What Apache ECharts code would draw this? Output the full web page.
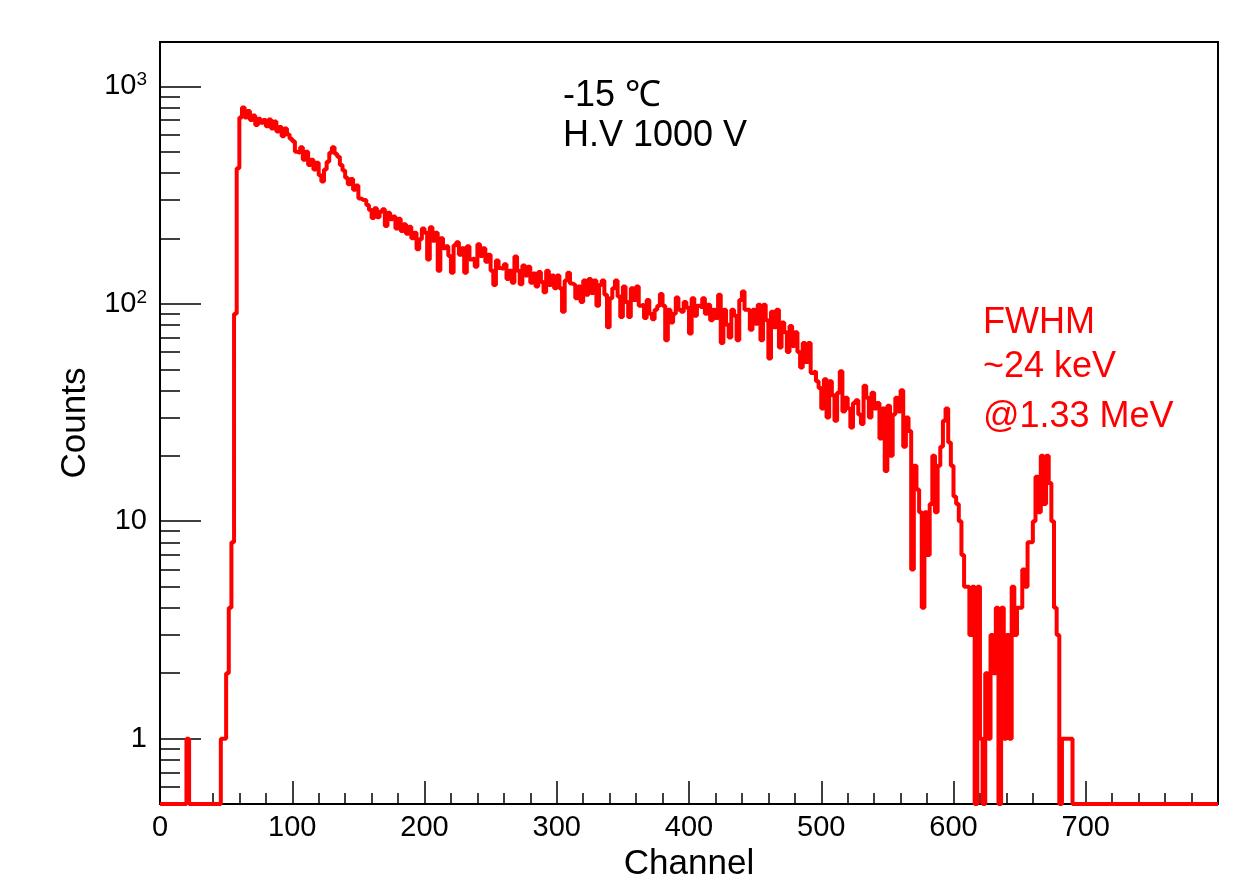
<!DOCTYPE html>
<html><head><meta charset="utf-8">
<script src="https://cdn.jsdelivr.net/npm/echarts@6/dist/echarts.min.js"></script>
<style>html,body{margin:0;padding:0;background:#fff}#c{width:1241px;height:887px}</style>
</head><body><div id="c"></div>
<script>
// ---- data (2 channels per bin) ----
const binWidth = 2;
const counts000 = [0,0,0,0,0,0,0,0,0,0, 1, 0,0,0,0,0,0,0,0,0,0,0,
  0,1,1,2,4,8,90,420,720,800,720,770,700,735,665,710,680,700,655,705,640,690,620,650,590,640,600,575];
const counts100 = [560,500,495,525,460,500,435,460,415,445,390,365,415,450,495,525,490,475,435,410,
  380,355,375,335,350,305,300,300,285,270,248,275,250,265,272,228,262,245,252,222,
  246,216,232,210,226,200,212,178,198,222];
const counts200 = [212,160,225,195,212,142,200,180,184,166,139,186,192,168,180,139,184,160,162,148,
  188,166,180,156,168,142,122,158,146,145,152,130,142,125,165,142,123,150,135,148,
  125,138,120,140,126,113,142,122,135,118];
const counts300 = [135,118,92,128,139,124,122,106,120,102,128,110,130,112,128,98,122,128,110,78,
  106,118,128,108,87,120,102,87,118,104,120,98,99,86,104,90,85,94,98,111,
  98,68,94,82,90,107,94,92,102,96];
const counts400 = [73,106,88,98,96,106,90,99,84,94,86,110,66,94,80,70,94,88,68,104,
  114,94,94,76,94,81,99,68,99,84,56,92,78,94,63,82,74,60,79,64,
  74,60,51,66,54,66,48,49,44,41];
const counts500 = [33,45,30,44,38,29,39,49,32,37,33,27,35,36,31,28,42,37,30,39,
  33,35,24,33,17,34,20,31,37,32,40,22,30,26,6,18,14,11,4,11,
  7,12,20,11,18,22,29,33,23,18];
const counts600 = [13,12,10,7,5,5,3,5,0,5,1,0,2,1,3,2,4,0,4,1,
  3,1,5,3,4,4,6,5,8,8,10,16,11,20,12,20,15,10,4,3,
  0,1,1,1,1,0,0,0,0,0];
const counts700 = [0,0,0,0,0,0,0,0,0,0,0,0,0,0,0,0,0,0,0,0,0,0,0,0,0,
  0,0,0,0,0,0,0,0,0,0,0,0,0,0,0,0,0,0,0,0,0,0,0,0,0];

const xMin = 0, xMax = 800, xStep = 100;
const yMin = 0.5, yMax = 1600;
const yMajorTicks = [1, 10, 100, 1000];
const yMinorTicks = [0.6,0.7,0.8,0.9, 2,3,4,5,6,7,8,9, 20,30,40,50,60,70,80,90, 200,300,400,500,600,700,800,900];
const yLabels = {1: '1', 10: '10', 100: '{b|10}{s|2}', 1000: '{b|10}{s|3}'};
const xTitle = 'Channel';
const yTitle = 'Counts';
const noteBlack = ['-15 ℃', 'H.V 1000 V'];
const noteRed = ['FWHM', '~24 keV', '@1.33 MeV'];

const counts = [].concat(counts000, counts100, counts200, counts300, counts400, counts500, counts600, counts700);
const seriesData = counts.map((c, i) => [i * binWidth, c > 0 ? c : yMin]);
seriesData.push([counts.length * binWidth, seriesData[seriesData.length - 1][1]]);

const FONT = '"Liberation Sans", Arial, Helvetica, sans-serif';
const chart = echarts.init(document.getElementById('c'), null, {renderer: 'canvas'});
const yBase = {
  type: 'log', min: yMin, max: yMax, position: 'left',
  splitLine: {show: false}, minorTick: {show: false}
};
chart.setOption({
  animation: false,
  backgroundColor: '#fff',
  grid: {left: 160, right: 23, top: 42, bottom: 81, show: true, borderColor: '#000', borderWidth: 2, containLabel: false},
  xAxis: {
    type: 'value', min: xMin, max: xMax, interval: xStep,
    name: xTitle, nameLocation: 'middle', nameGap: 42,
    nameTextStyle: {fontFamily: FONT, fontSize: 35, color: '#000'},
    axisLine: {show: true, onZero: false, lineStyle: {color: '#000', width: 2}},
    axisTick: {show: true, inside: true, length: 23, lineStyle: {color: '#000', width: 1.5}},
    minorTick: {show: true, splitNumber: 5, length: 11, lineStyle: {color: '#000', width: 1.5}},
    splitLine: {show: false},
    axisLabel: {fontFamily: FONT, fontSize: 29, color: '#000', margin: 9,
      formatter: v => (v >= xMax ? '' : String(v))}
  },
  yAxis: [
    Object.assign({}, yBase, {
      name: yTitle, nameLocation: 'middle', nameGap: 58, nameRotate: 90,
      nameTextStyle: {fontFamily: FONT, fontSize: 35, color: '#000'},
      axisLine: {show: true, lineStyle: {color: '#000', width: 2}},
      axisTick: {show: true, inside: true, length: 41, customValues: yMajorTicks, lineStyle: {color: '#000', width: 1.5}},
      axisLabel: {show: true, customValues: yMajorTicks, margin: 13, fontFamily: FONT, fontSize: 29, color: '#000',
        formatter: v => yLabels[Math.round(v)] || '',
        rich: {
          b: {fontFamily: FONT, fontSize: 29, color: '#000', lineHeight: 32},
          s: {fontFamily: FONT, fontSize: 19, color: '#000', verticalAlign: 'top', lineHeight: 19}
        }}
    }),
    Object.assign({}, yBase, {
      axisLine: {show: false},
      axisTick: {show: true, inside: true, length: 20, customValues: yMinorTicks, lineStyle: {color: '#000', width: 1.5}},
      axisLabel: {show: false}
    })
  ],
  series: [{
    type: 'line', step: 'end', data: seriesData, symbol: 'none', clip: true,
    xAxisIndex: 0, yAxisIndex: 0,
    lineStyle: {color: '#ff0000', width: 4}
  }],
  graphic: [
    {type: 'text', left: 563, top: 78, style: {text: noteBlack[0], font: '36px ' + FONT, fill: '#000'}},
    {type: 'text', left: 563, top: 118, style: {text: noteBlack[1], font: '36px ' + FONT, fill: '#000'}},
    {type: 'text', left: 983, top: 305, style: {text: noteRed[0], font: '36px ' + FONT, fill: '#ff0000'}},
    {type: 'text', left: 983, top: 349, style: {text: noteRed[1], font: '36px ' + FONT, fill: '#ff0000'}},
    {type: 'text', left: 983, top: 399, style: {text: noteRed[2], font: '36px ' + FONT, fill: '#ff0000'}}
  ]
});
</script></body></html>
